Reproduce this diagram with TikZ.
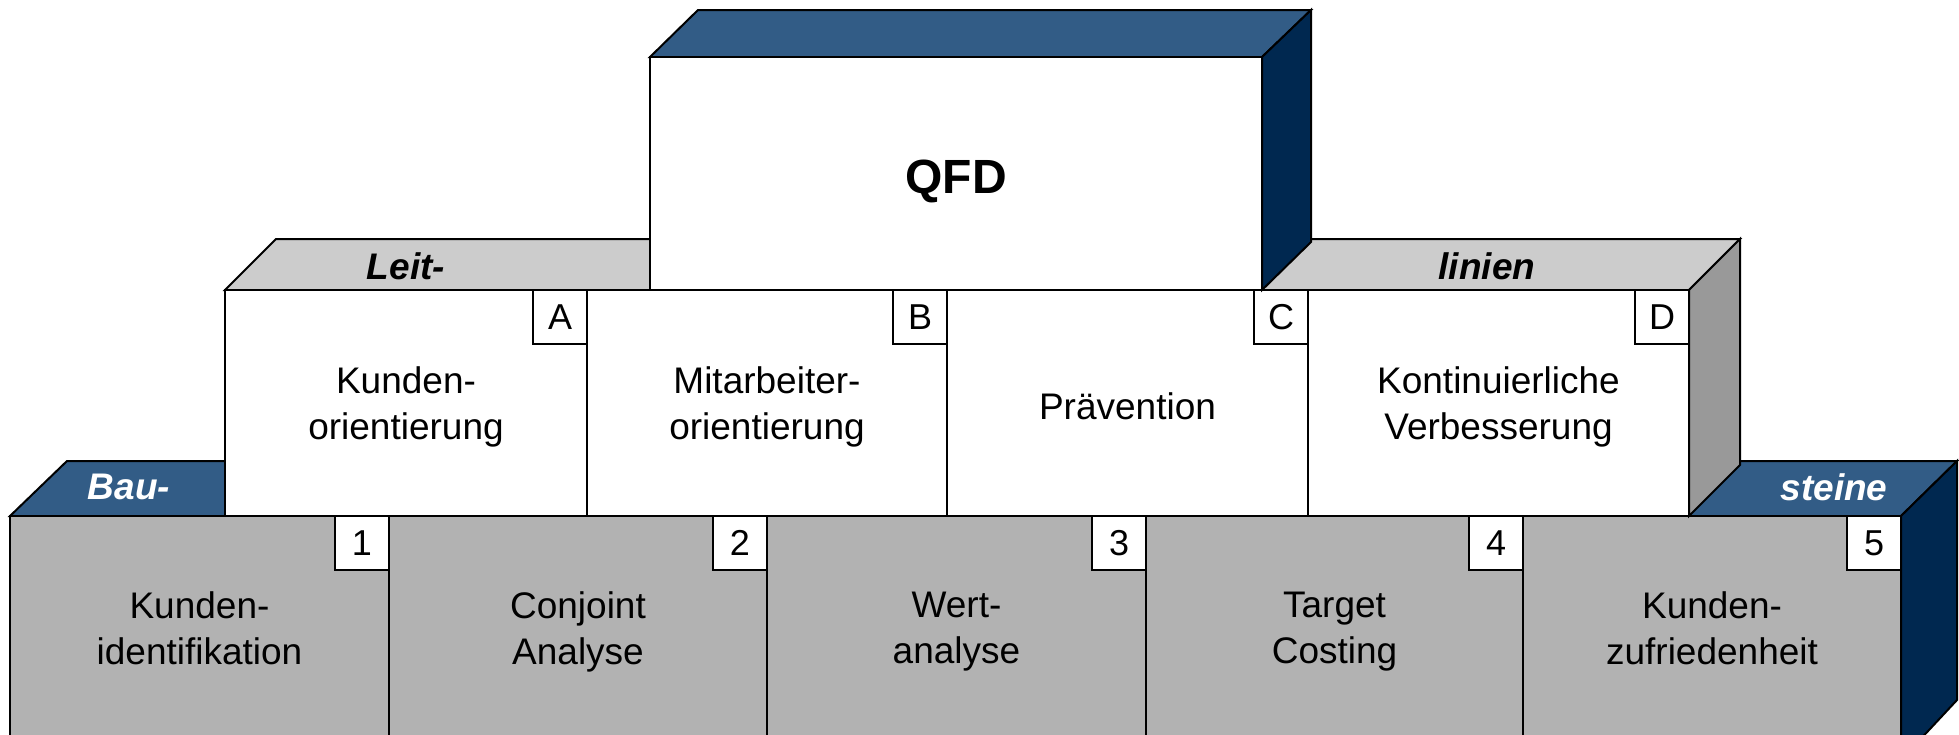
\documentclass[tikz,border=0pt]{standalone}
\usepackage{fontspec}
\setmainfont{Liberation Sans}
\definecolor{topblue}{RGB}{50,92,134}
\definecolor{sideblue}{RGB}{0,40,80}
\definecolor{lightgray}{RGB}{204,204,204}
\definecolor{midgray}{RGB}{153,153,153}
\definecolor{stonegray}{RGB}{178,178,178}
\begin{document}
\begin{tikzpicture}[x=1pt, y=-1pt, line width=2pt,
    face/.style={draw, inner sep=0pt, outer sep=0pt, anchor=north west, align=center,
      font=\fontsize{37}{46}\selectfont, execute at begin node=\strut,
      execute at end node=\strut, text depth=0pt},
    tag/.style={draw, fill=white, minimum size=54pt, inner sep=0pt, outer sep=0pt,
      anchor=north east, font=\fontsize{36}{42}\selectfont},
    tierlabel/.style={font=\fontsize{37}{44}\selectfont\bfseries\itshape}]
    \useasboundingbox (0,0) rectangle (1959,734);
    % bottom row: Bausteine
    \draw[fill=topblue] (10,516) -- (67,461) -- (1957,461) -- (1901,516) -- cycle;
    \draw[fill=sideblue] (1901,516) -- (1957,461) -- (1957,700) -- (1901,760) -- cycle;
    \node[face, fill=stonegray, minimum width=379pt, minimum height=224pt] (kid) at (10,516) {Kunden-\\identifikation};
    \node[face, fill=stonegray, minimum width=378pt, minimum height=224pt] (cja) at (kid.north east) {Conjoint\\Analyse};
    \node[face, fill=stonegray, minimum width=379pt, minimum height=224pt] (wta) at (cja.north east) {Wert-\\analyse};
    \node[face, fill=stonegray, minimum width=377pt, minimum height=224pt] (tgc) at (wta.north east) {Target\\Costing};
    \node[face, fill=stonegray, minimum width=378pt, minimum height=224pt] (kzf) at (tgc.north east) {Kunden-\\zufriedenheit};
    \node[tag] (n1) at (kid.north east) {1};
    \node[tag] (n2) at (cja.north east) {2};
    \node[tag] (n3) at (wta.north east) {3};
    \node[tag] (n4) at (tgc.north east) {4};
    \node[tag] (n5) at (kzf.north east) {5};
    \node[tierlabel, white] (bau) at (129,487) {Bau-};
    \node[tierlabel, white] (steine) at (1834,487) {steine};
    % middle row: Leitlinien
    \draw[fill=lightgray] (225,290) -- (276,239) -- (1740,239) -- (1689,290) -- cycle;
    \draw[fill=midgray] (1689,290) -- (1740,239) -- (1740,465) -- (1689,516) -- cycle;
    \node[face, fill=white, minimum width=362pt, minimum height=226pt] (kor) at (225,290) {Kunden-\\orientierung};
    \node[face, fill=white, minimum width=360pt, minimum height=226pt] (mor) at (kor.north east) {Mitarbeiter-\\orientierung};
    \node[face, fill=white, minimum width=361pt, minimum height=226pt] (prv) at (mor.north east) {Prävention};
    \node[face, fill=white, minimum width=381pt, minimum height=226pt] (kvb) at (prv.north east) {Kontinuierliche\\Verbesserung};
    \node[tag] (la) at (kor.north east) {A};
    \node[tag] (lb) at (mor.north east) {B};
    \node[tag] (lc) at (prv.north east) {C};
    \node[tag] (ld) at (kvb.north east) {D};
    \node[tierlabel] (leit) at (406,266) {Leit-};
    \node[tierlabel] (linien) at (1487,266) {linien};
    % top: QFD
    \draw[fill=topblue] (650,57) -- (698,10) -- (1311,10) -- (1262,57) -- cycle;
    \draw[fill=sideblue] (1262,57) -- (1311,10) -- (1311,242) -- (1262,290) -- cycle;
    \node[face, fill=white, minimum width=612pt, minimum height=233pt,
      font=\fontsize{48}{56}\selectfont\bfseries, execute at begin node={},
      execute at end node={}] (qfd) at (650,57) {QFD};
\end{tikzpicture}
\end{document}
